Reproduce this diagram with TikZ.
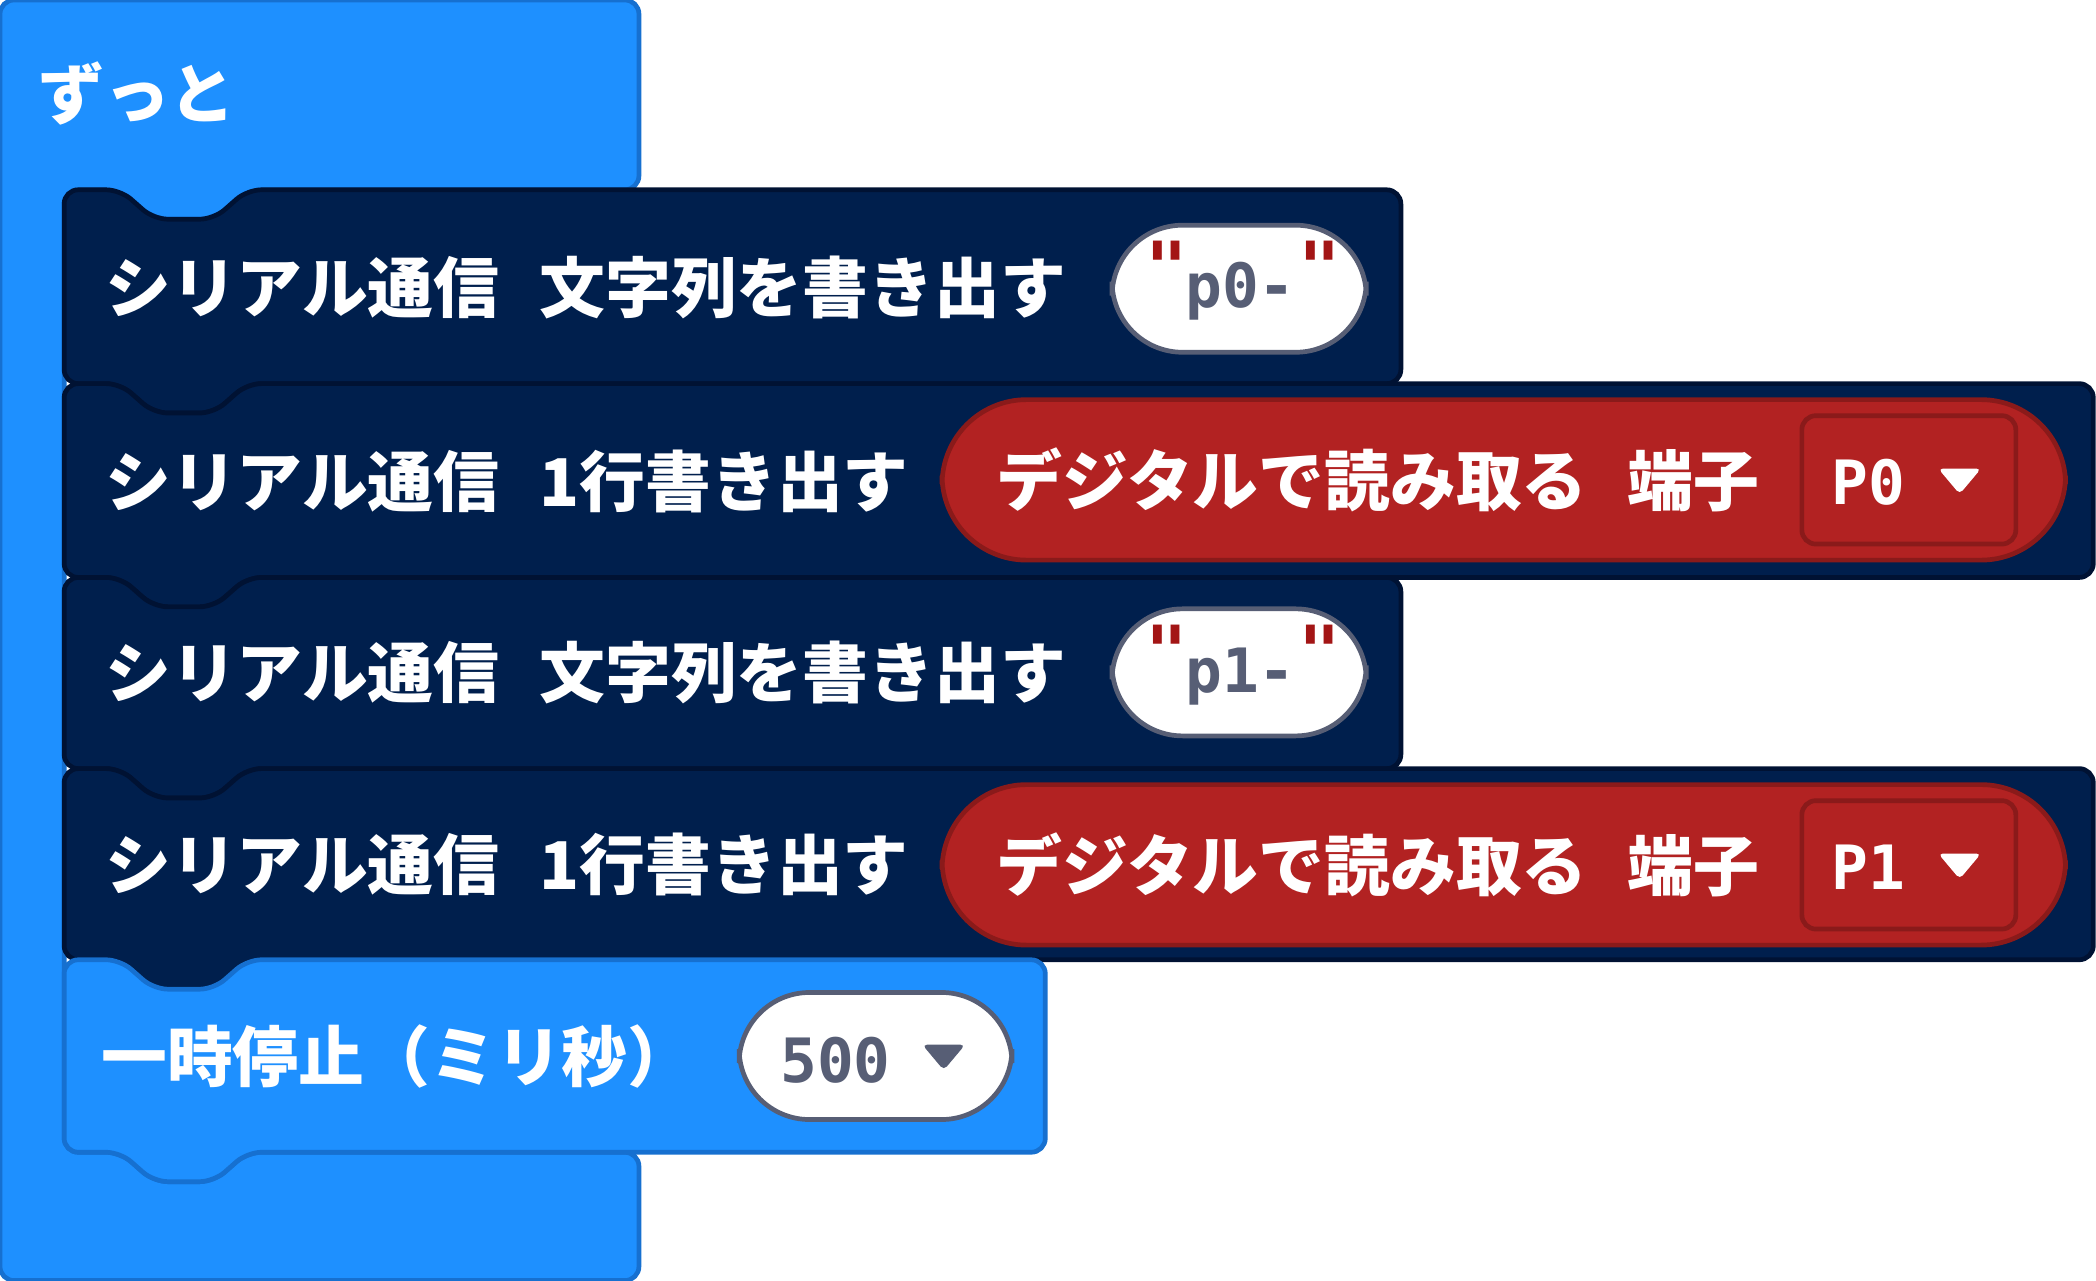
\documentclass[tikz,border=0pt]{standalone}
\usepackage{fontspec}
\setmainfont{Noto Sans CJK JP}
\newfontfamily\monofont{DejaVu Sans Mono}
\usetikzlibrary{shapes.geometric, positioning}
\definecolor{loopblue}{HTML}{1E90FF}
\definecolor{loopedge}{HTML}{1670D0}
\definecolor{serialnavy}{HTML}{001F4D}
\definecolor{serialedge}{HTML}{001233}
\definecolor{pinred}{HTML}{B22222}
\definecolor{pinedge}{HTML}{8A1A1A}
\definecolor{valgrey}{HTML}{575E75}
\definecolor{quotered}{HTML}{A31515}
\newcommand{\gap}{\hspace{0.3cm}}

\begin{document}
\begin{tikzpicture}[x=0.01cm, y=-0.01cm]

% Define block styles
\tikzstyle{label} = [anchor=west, text=white, font=\fontsize{14}{16}\selectfont\bfseries, inner sep=0pt]
\tikzstyle{strpill} = [rectangle, rounded corners=15pt, draw=valgrey, line width=1pt, fill=white, minimum width=1.9cm, minimum height=0.95cm]
\tikzstyle{pinpill} = [rectangle, rounded corners=18pt, draw=pinedge, line width=1pt, fill=pinred, minimum width=8.4cm, minimum height=1.2cm]
\tikzstyle{pinbox} = [rectangle, rounded corners=3pt, draw=pinedge, line width=1pt, fill=pinred, minimum width=1.6cm, minimum height=0.96cm]
\tikzstyle{val} = [font=\monofont\bfseries\fontsize{13}{15}\selectfont, text=valgrey, inner sep=0pt]
\tikzstyle{quote} = [font=\monofont\bfseries\fontsize{15}{17}\selectfont, text=quotered, inner sep=0pt, anchor=north]
\tikzstyle{arrowtip} = [isosceles triangle, isosceles triangle apex angle=80, shape border rotate=-90, minimum width=0.32cm, minimum height=0.16cm, inner sep=0pt, rounded corners=1pt]

\useasboundingbox (0,0) rectangle (1568,958);

% Forever block
\draw [fill=loopblue, draw=loopedge, line width=1pt, rounded corners=3pt]
  (0,0) -- (478,0) -- (478,142) -- (185,142) -- (160,164) -- (115,164) -- (90,142) -- (48,142)
  -- (48,862) -- (90,862) -- (115,884) -- (160,884) -- (185,862) -- (478,862) -- (478,958) -- (0,958) -- cycle;
\node (forever) [label] at (28,70) {ずっと};

% Inner blocks
\foreach \top/\bot/\right/\fc/\ec in {142/287/1048/serialnavy/serialedge, 287/432/1566/serialnavy/serialedge, 432/575/1048/serialnavy/serialedge, 575/718/1566/serialnavy/serialedge, 718/862/782/loopblue/loopedge}
  \draw [fill=\fc, draw=\ec, line width=1pt, rounded corners=3pt]
    (48,\top) -- (90,\top) -- (115,\top+22) -- (160,\top+22) -- (185,\top) -- (\right,\top) -- (\right,\bot)
    -- (185,\bot) -- (160,\bot+22) -- (115,\bot+22) -- (90,\bot) -- (48,\bot) -- cycle;

% Nodes
\node (write0) [label] at (78,215) {シリアル通信\gap 文字列を書き出す};
\node (str0) [strpill] at (927,216) {};
\node (str0txt) [val] at (928,218) {p0-};
\node (q0l) [quote] at (873,180) {"};
\node (q0r) [quote] at (987,180) {"};

\node (line0) [label] at (78,360) {シリアル通信\gap 1行書き出す};
\node (pin0) [pinpill] at (1125,359) {};
\node (read0) [label] at (745,359) {デジタルで読み取る\gap 端子};
\node (box0) [pinbox] at (1428,359) {};
\node (p0) [val, text=white] at (1398,361) {P0};
\node (tip0) [arrowtip, fill=white] at (1466,358) {};

\node (write1) [label] at (78,503) {シリアル通信\gap 文字列を書き出す};
\node (str1) [strpill] at (927,503) {};
\node (str1txt) [val] at (928,506) {p1-};
\node (q1l) [quote] at (873,467) {"};
\node (q1r) [quote] at (987,467) {"};

\node (line1) [label] at (78,647) {シリアル通信\gap 1行書き出す};
\node (pin1) [pinpill] at (1125,647) {};
\node (read1) [label] at (745,647) {デジタルで読み取る\gap 端子};
\node (box1) [pinbox] at (1428,647) {};
\node (p1) [val, text=white] at (1398,649) {P1};
\node (tip1) [arrowtip, fill=white] at (1466,646) {};

\node (pause) [label] at (75,790) {一時停止（ミリ秒）};
\node (ms) [strpill, minimum width=2.04cm] at (655,790) {};
\node (mstxt) [val] at (625,793) {500};
\node (mstip) [arrowtip, fill=valgrey] at (706,789) {};

\end{tikzpicture}
\end{document}
